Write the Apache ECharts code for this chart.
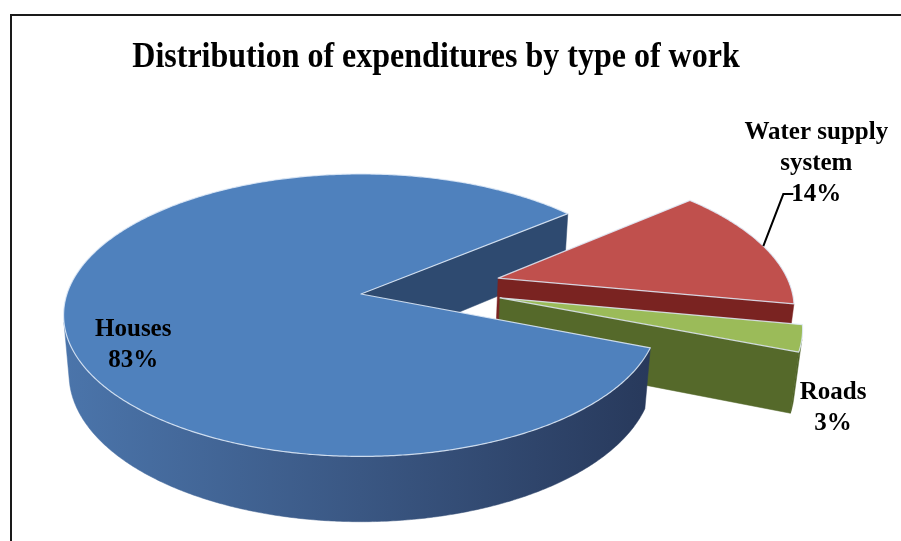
<!DOCTYPE html>
<html>
<head>
<meta charset="utf-8">
<script src="https://cdn.jsdelivr.net/npm/echarts@6/dist/echarts.min.js"></script>
<style>
  html, body { margin: 0; padding: 0; background: #ffffff; }
  #chart { width: 901px; height: 541px; }
</style>
</head>
<body>
<div id="chart"></div>
<script>
// ---- data ----
const categories = ['Houses', 'Water supply system', 'Roads'];
const labelNames = ['Houses', 'Water supply\nsystem', 'Roads'];
const shares = [83, 14, 3];
const percentLabels = ['83%', '14%', '3%'];

// ---- styling / geometry ----
const TITLE = 'Distribution of expenditures by type of work';
const FONT = '"Liberation Serif", "Times New Roman", serif';
const VIEW = { cx: 361, cy: 294, focal: 1732, dist: 5.89, tiltDeg: 28, thickness: 0.23 };
const START_DEG = -21.6;            // first slice starts here, slices run clockwise
const EXPLODE = [0, 0.49, 0.49];    // radial offset of each slice (fraction of radius)
const EXPLODE_DEPTH_SQUASH = 0.56;  // flattens the depth component of the explosion
const EXPLODE_BACK = 0.1;           // exploded slices also slide slightly backwards
const TOP_COLORS = ['#4F81BD', '#C0504D', '#9BBB59'];
const EDGE_COLORS = ['#2E4A70', '#7A2321', '#55692A'];
const WALL_COLORS = [
  new echarts.graphic.LinearGradient(60, 0, 660, 0, [
    { offset: 0, color: '#4B75AB' },
    { offset: 0.5, color: '#3A5783' },
    { offset: 1, color: '#27385A' }
  ], true),
  '#7A2321',
  '#4F6326'
];
// label placement: anchor radius on the bisector (1 = rim), pixel offset of the text block
const LABEL_PLACE = [
  { r: 0.78, dx: 3, dy: 34, leader: null },
  { r: 1.0, dx: 53, dy: -83, leader: [[20, -52], [30, -52]] },
  { r: 1.0, dx: 31, dy: 70, leader: null }
];

const tilt = VIEW.tiltDeg * Math.PI / 180;
const sinT = Math.sin(tilt), cosT = Math.cos(tilt);

function project(X, Y, Z) {
  const d = VIEW.dist + Z * cosT - Y * sinT;
  const up = Y * cosT + Z * sinT;
  return [VIEW.cx + VIEW.focal * X / d, VIEW.cy - VIEW.focal * up / d, d];
}

const total = shares.reduce((a, b) => a + b, 0);
function sliceGeom(i) {
  let cum = 0;
  for (let k = 0; k < i; k++) cum += shares[k];
  const a0 = START_DEG - cum / total * 360;
  const a1 = a0 - shares[i] / total * 360;
  const mid = (a0 + a1) / 2 * Math.PI / 180;
  const ox = EXPLODE[i] * Math.cos(mid);
  const oz = EXPLODE[i] * (Math.sin(mid) * EXPLODE_DEPTH_SQUASH + EXPLODE_BACK);
  return { a0: a0 * Math.PI / 180, a1: a1 * Math.PI / 180, mid, ox, oz };
}

function arcPoints(g, from, to, Y) {
  const pts = [];
  const n = Math.max(2, Math.ceil(Math.abs(from - to) / (Math.PI / 360)));
  for (let k = 0; k <= n; k++) {
    const t = from + (to - from) * k / n;
    pts.push(project(g.ox + Math.cos(t), Y, g.oz + Math.sin(t)));
  }
  return pts;
}

function avgDepth(pts) {
  return pts.reduce((s, p) => s + p[2], 0) / pts.length;
}
function xy(pts) { return pts.map(p => [p[0], p[1]]); }

function sideElements(i) {
  const g = sliceGeom(i);
  const H = -VIEW.thickness;
  const els = [];
  const camZ = VIEW.dist * cosT;
  // outer curved wall: keep the parts that face the camera
  const n = Math.max(2, Math.ceil((g.a0 - g.a1) / (Math.PI / 360)));
  let run = [];
  const flush = () => {
    if (run.length > 1) {
      const top = run.map(t => project(g.ox + Math.cos(t), 0, g.oz + Math.sin(t)));
      const bot = run.map(t => project(g.ox + Math.cos(t), H, g.oz + Math.sin(t))).reverse();
      const poly = top.concat(bot);
      els.push({
        type: 'polygon', z2: Math.round(1000 - avgDepth(poly) * 100),
        shape: { points: xy(poly) },
        style: { fill: WALL_COLORS[i], stroke: WALL_COLORS[i], lineWidth: 0.5 }
      });
    }
    run = [];
  };
  for (let k = 0; k <= n; k++) {
    const t = g.a0 - (g.a0 - g.a1) * k / n;
    const vis = 1 + g.ox * Math.cos(t) + (g.oz + camZ) * Math.sin(t) < 0;
    if (vis) run.push(t); else flush();
  }
  flush();
  // radial cut faces
  const faces = [
    { a: g.a0, dot: -g.ox * Math.sin(g.a0) + (g.oz + camZ) * Math.cos(g.a0) },
    { a: g.a1, dot: g.ox * Math.sin(g.a1) - (g.oz + camZ) * Math.cos(g.a1) }
  ];
  faces.forEach(f => {
    if (f.dot >= 0) return;
    const poly = [
      project(g.ox, 0, g.oz),
      project(g.ox + Math.cos(f.a), 0, g.oz + Math.sin(f.a)),
      project(g.ox + Math.cos(f.a), H, g.oz + Math.sin(f.a)),
      project(g.ox, H, g.oz)
    ];
    els.push({
      type: 'polygon', z2: Math.round(1000 - avgDepth(poly) * 100),
      shape: { points: xy(poly) },
      style: { fill: EDGE_COLORS[i], stroke: EDGE_COLORS[i], lineWidth: 0.5 }
    });
  });
  return els;
}

function topElements(i) {
  const g = sliceGeom(i);
  const poly = [project(g.ox, 0, g.oz)].concat(arcPoints(g, g.a0, g.a1, 0));
  const els = [{
    type: 'polygon', z2: 2000,
    shape: { points: xy(poly) },
    style: { fill: TOP_COLORS[i], stroke: 'rgba(225,235,248,0.85)', lineWidth: 1.2, lineJoin: 'round' }
  }];
  // label
  const lp = LABEL_PLACE[i];
  const anchor = project(g.ox + lp.r * Math.cos(g.mid), 0, g.oz + lp.r * Math.sin(g.mid));
  if (lp.leader) {
    const pts = [[anchor[0], anchor[1]]].concat(lp.leader.map(o => [anchor[0] + o[0], anchor[1] + o[1]]));
    els.push({
      type: 'polyline', z2: 3000,
      shape: { points: pts },
      style: { stroke: '#000', lineWidth: 2, fill: null }
    });
  }
  els.push({
    type: 'text', z2: 3001,
    x: anchor[0] + lp.dx, y: anchor[1] + lp.dy,
    style: {
      text: labelNames[i] + '\n' + percentLabels[i],
      fontFamily: FONT, fontWeight: 'bold', fontSize: 25, lineHeight: 31,
      fill: '#000', align: 'center', verticalAlign: 'middle'
    }
  });
  return els;
}

const seriesData = categories.map((c, i) => ({ name: c, value: [i, shares[i]] }));

const chart = echarts.init(document.getElementById('chart'), null, { renderer: 'canvas' });
chart.setOption({
  animation: false,
  backgroundColor: '#ffffff',
  graphic: [
    { type: 'line', shape: { x1: 10, y1: 15, x2: 901, y2: 15 }, style: { stroke: '#1a1a1a', lineWidth: 2 } },
    { type: 'line', shape: { x1: 11, y1: 14, x2: 11, y2: 541 }, style: { stroke: '#1a1a1a', lineWidth: 2 } },
    {
      type: 'text', x: 436, y: 58, scaleY: 1.12, originX: 0, originY: 0,
      style: {
        text: TITLE, fontFamily: FONT, fontWeight: 'bold', fontSize: 32,
        fill: '#000', align: 'center', verticalAlign: 'middle'
      }
    }
  ],
  series: [
    {
      type: 'custom', name: 'sides', coordinateSystem: 'none', z: 2,
      data: seriesData,
      renderItem: (params) => ({ type: 'group', children: sideElements(params.dataIndex) })
    },
    {
      type: 'custom', name: 'tops', coordinateSystem: 'none', z: 3,
      data: seriesData,
      renderItem: (params) => ({ type: 'group', children: topElements(params.dataIndex) })
    }
  ]
});
</script>
</body>
</html>
